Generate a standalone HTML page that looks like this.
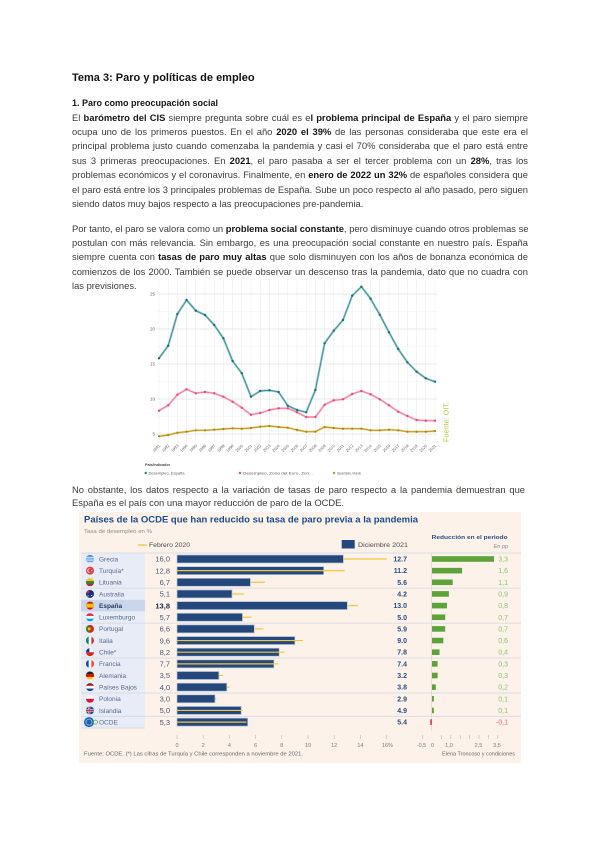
<!DOCTYPE html>
<html><head><meta charset="utf-8">
<style>
html,body{margin:0;padding:0;background:#fff;}
body{width:600px;height:848px;position:relative;overflow:hidden;font-family:"Liberation Sans",Arial,sans-serif;color:#3a3a3a;}
.t{position:absolute;left:72px;white-space:nowrap;}
.ln{position:absolute;left:72px;width:456px;font-size:9.4px;line-height:12.8px;height:12.8px;white-space:nowrap;text-align:justify;text-align-last:justify;}
.ln.l{text-align:left;text-align-last:left;}
b{color:#161616;font-weight:bold;}
</style></head><body>
<div class="t" style="top:71px;font-size:11px;line-height:14px;font-weight:bold;color:#141414;">Tema 3: Paro y políticas de empleo</div>
<div class="t" style="top:96.6px;font-size:9px;line-height:12.8px;font-weight:bold;color:#141414;">1. Paro como preocupación social</div>

<div class="ln" style="top:111.6px">El <b>barómetro del CIS</b> siempre pregunta sobre cuál es e<b>l problema principal de España</b> y el paro siempre</div>
<div class="ln" style="top:126px">ocupa uno de los primeros puestos. En el año <b>2020 el 39%</b> de las personas consideraba que este era el</div>
<div class="ln" style="top:140.4px">principal problema justo cuando comenzaba la pandemia y casi el 70% consideraba que el paro está entre</div>
<div class="ln" style="top:154.8px">sus 3 primeras preocupaciones. En <b>2021</b>, el paro pasaba a ser el tercer problema con un <b>28%</b>, tras los</div>
<div class="ln" style="top:169.2px">problemas económicos y el coronavirus. Finalmente, en <b>enero de 2022 un 32%</b> de españoles considera que</div>
<div class="ln" style="top:183.6px">el paro está entre los 3 principales problemas de España. Sube un poco respecto al año pasado, pero siguen</div>
<div class="ln l" style="top:198px">siendo datos muy bajos respecto a las preocupaciones pre-pandemia.</div>

<div class="ln" style="top:222.6px">Por tanto, el paro se valora como un <b>problema social constante</b>, pero disminuye cuando otros problemas se</div>
<div class="ln" style="top:237px">postulan con más relevancia. Sin embargo, es una preocupación social constante en nuestro país. España</div>
<div class="ln" style="top:251.4px">siempre cuenta con <b>tasas de paro muy altas</b> que solo disminuyen con los años de bonanza económica de</div>
<div class="ln" style="top:265.8px">comienzos de los 2000. También se puede observar un descenso tras la pandemia, dato que no cuadra con</div>
<div class="ln l" style="top:280.2px">las previsiones.</div>

<div class="ln" style="top:483.6px;width:453px">No obstante, los datos respecto a la variación de tasas de paro respecto a la pandemia demuestran que</div>
<div class="ln l" style="top:496.8px">España es el país con una mayor reducción de paro de la OCDE.</div>

<svg width="600" height="848" style="position:absolute;left:0;top:0" font-family="Liberation Sans, Arial, sans-serif">
<defs><clipPath id="fc" clipPathUnits="objectBoundingBox"><circle cx=".5" cy=".5" r=".5"/></clipPath></defs>

<!-- ============ LINE CHART ============ -->
<g>
<g stroke="#f3f3f3" stroke-width="0.5">
<line x1="157" x2="437" y1="416.5" y2="416.5"/><line x1="157" x2="437" y1="381.5" y2="381.5"/>
<line x1="157" x2="437" y1="346.5" y2="346.5"/><line x1="157" x2="437" y1="311.5" y2="311.5"/>
</g>
<g stroke="#e9e9e9" stroke-width="0.5">
<line x1="159" x2="159" y1="279" y2="443"/><line x1="168.2" x2="168.2" y1="279" y2="443"/><line x1="177.4" x2="177.4" y1="279" y2="443"/><line x1="186.6" x2="186.6" y1="279" y2="443"/><line x1="195.8" x2="195.8" y1="279" y2="443"/><line x1="205" x2="205" y1="279" y2="443"/><line x1="214.2" x2="214.2" y1="279" y2="443"/><line x1="223.4" x2="223.4" y1="279" y2="443"/><line x1="232.6" x2="232.6" y1="279" y2="443"/><line x1="241.8" x2="241.8" y1="279" y2="443"/><line x1="251" x2="251" y1="279" y2="443"/><line x1="260.2" x2="260.2" y1="279" y2="443"/><line x1="269.4" x2="269.4" y1="279" y2="443"/><line x1="278.6" x2="278.6" y1="279" y2="443"/><line x1="287.8" x2="287.8" y1="279" y2="443"/><line x1="297" x2="297" y1="279" y2="443"/><line x1="306.2" x2="306.2" y1="279" y2="443"/><line x1="315.4" x2="315.4" y1="279" y2="443"/><line x1="324.6" x2="324.6" y1="279" y2="443"/><line x1="333.8" x2="333.8" y1="279" y2="443"/><line x1="343" x2="343" y1="279" y2="443"/><line x1="352.2" x2="352.2" y1="279" y2="443"/><line x1="361.4" x2="361.4" y1="279" y2="443"/><line x1="370.6" x2="370.6" y1="279" y2="443"/><line x1="379.8" x2="379.8" y1="279" y2="443"/><line x1="389" x2="389" y1="279" y2="443"/><line x1="398.2" x2="398.2" y1="279" y2="443"/><line x1="407.4" x2="407.4" y1="279" y2="443"/><line x1="416.6" x2="416.6" y1="279" y2="443"/><line x1="425.8" x2="425.8" y1="279" y2="443"/><line x1="435" x2="435" y1="279" y2="443"/>
</g>
<g stroke="#e0e0e0" stroke-width="0.7">
<line x1="157" x2="437" y1="294" y2="294"/><line x1="157" x2="437" y1="329" y2="329"/><line x1="157" x2="437" y1="364" y2="364"/><line x1="157" x2="437" y1="399" y2="399"/><line x1="157" x2="437" y1="434" y2="434"/>
</g>
<g font-size="4.5" fill="#666" text-anchor="end">
<text x="155" y="295.6">25</text><text x="155" y="330.6">20</text><text x="155" y="365.6">15</text><text x="155" y="400.6">10</text><text x="155" y="435.6">5</text>
</g>
<!-- Spain -->
<polyline fill="none" stroke="#a9d3d8" stroke-width="2.4" stroke-linejoin="round" points="159,358.3 168.2,345.7 177.4,314 186.6,300 195.8,310.7 205,315 214.2,325 223.4,338.3 232.6,361 241.8,373.3 251,396.7 260.2,391 269.4,390.3 278.6,392 287.8,405.7 297,410 306.2,412.3 315.4,390 324.6,343.3 333.8,330.7 343,320 352.2,295.7 361.4,286.7 370.6,298.7 379.8,314.7 389,332.3 398.2,349 407.4,362.3 416.6,371.7 425.8,378.3 435,381.7"/>
<polyline fill="none" stroke="#3f8f98" stroke-width="1" stroke-linejoin="round" points="159,358.3 168.2,345.7 177.4,314 186.6,300 195.8,310.7 205,315 214.2,325 223.4,338.3 232.6,361 241.8,373.3 251,396.7 260.2,391 269.4,390.3 278.6,392 287.8,405.7 297,410 306.2,412.3 315.4,390 324.6,343.3 333.8,330.7 343,320 352.2,295.7 361.4,286.7 370.6,298.7 379.8,314.7 389,332.3 398.2,349 407.4,362.3 416.6,371.7 425.8,378.3 435,381.7"/>
<g fill="#226b75">
<circle cx="159" cy="358.3" r="1.2"/><circle cx="168.2" cy="345.7" r="1.2"/><circle cx="177.4" cy="314" r="1.2"/><circle cx="186.6" cy="300" r="1.2"/><circle cx="195.8" cy="310.7" r="1.2"/><circle cx="205" cy="315" r="1.2"/><circle cx="214.2" cy="325" r="1.2"/><circle cx="223.4" cy="338.3" r="1.2"/><circle cx="232.6" cy="361" r="1.2"/><circle cx="241.8" cy="373.3" r="1.2"/><circle cx="251" cy="396.7" r="1.2"/><circle cx="260.2" cy="391" r="1.2"/><circle cx="269.4" cy="390.3" r="1.2"/><circle cx="278.6" cy="392" r="1.2"/><circle cx="287.8" cy="405.7" r="1.2"/><circle cx="297" cy="410" r="1.2"/><circle cx="306.2" cy="412.3" r="1.2"/><circle cx="315.4" cy="390" r="1.2"/><circle cx="324.6" cy="343.3" r="1.2"/><circle cx="333.8" cy="330.7" r="1.2"/><circle cx="343" cy="320" r="1.2"/><circle cx="352.2" cy="295.7" r="1.2"/><circle cx="361.4" cy="286.7" r="1.2"/><circle cx="370.6" cy="298.7" r="1.2"/><circle cx="379.8" cy="314.7" r="1.2"/><circle cx="389" cy="332.3" r="1.2"/><circle cx="398.2" cy="349" r="1.2"/><circle cx="407.4" cy="362.3" r="1.2"/><circle cx="416.6" cy="371.7" r="1.2"/><circle cx="425.8" cy="378.3" r="1.2"/><circle cx="435" cy="381.7" r="1.2"/>
</g>
<!-- Euro -->
<polyline fill="none" stroke="#f7bfd0" stroke-width="2.2" stroke-linejoin="round" points="159,410.7 168.2,405.3 177.4,394.7 186.6,389.3 195.8,393.3 205,392 214.2,393.3 223.4,396.7 232.6,401.7 241.8,407.7 251,414.7 260.2,413 269.4,410 278.6,408.3 287.8,408.3 297,412.3 306.2,417 315.4,417 324.6,404.7 333.8,400.3 343,399.3 352.2,394 361.4,391 370.6,394.3 379.8,399.3 389,405.3 398.2,411.7 407.4,416 416.6,420 425.8,420.7 435,420.7"/>
<polyline fill="none" stroke="#f07a9c" stroke-width="0.9" stroke-linejoin="round" points="159,410.7 168.2,405.3 177.4,394.7 186.6,389.3 195.8,393.3 205,392 214.2,393.3 223.4,396.7 232.6,401.7 241.8,407.7 251,414.7 260.2,413 269.4,410 278.6,408.3 287.8,408.3 297,412.3 306.2,417 315.4,417 324.6,404.7 333.8,400.3 343,399.3 352.2,394 361.4,391 370.6,394.3 379.8,399.3 389,405.3 398.2,411.7 407.4,416 416.6,420 425.8,420.7 435,420.7"/>
<g fill="#e84a7c">
<circle cx="159" cy="410.7" r="1.2"/><circle cx="168.2" cy="405.3" r="1.2"/><circle cx="177.4" cy="394.7" r="1.2"/><circle cx="186.6" cy="389.3" r="1.2"/><circle cx="195.8" cy="393.3" r="1.2"/><circle cx="205" cy="392" r="1.2"/><circle cx="214.2" cy="393.3" r="1.2"/><circle cx="223.4" cy="396.7" r="1.2"/><circle cx="232.6" cy="401.7" r="1.2"/><circle cx="241.8" cy="407.7" r="1.2"/><circle cx="251" cy="414.7" r="1.2"/><circle cx="260.2" cy="413" r="1.2"/><circle cx="269.4" cy="410" r="1.2"/><circle cx="278.6" cy="408.3" r="1.2"/><circle cx="287.8" cy="408.3" r="1.2"/><circle cx="297" cy="412.3" r="1.2"/><circle cx="306.2" cy="417" r="1.2"/><circle cx="315.4" cy="417" r="1.2"/><circle cx="324.6" cy="404.7" r="1.2"/><circle cx="333.8" cy="400.3" r="1.2"/><circle cx="343" cy="399.3" r="1.2"/><circle cx="352.2" cy="394" r="1.2"/><circle cx="361.4" cy="391" r="1.2"/><circle cx="370.6" cy="394.3" r="1.2"/><circle cx="379.8" cy="399.3" r="1.2"/><circle cx="389" cy="405.3" r="1.2"/><circle cx="398.2" cy="411.7" r="1.2"/><circle cx="407.4" cy="416" r="1.2"/><circle cx="416.6" cy="420" r="1.2"/><circle cx="425.8" cy="420.7" r="1.2"/><circle cx="435" cy="420.7" r="1.2"/>
</g>
<!-- World -->
<polyline fill="none" stroke="#e6d38a" stroke-width="2.2" stroke-linejoin="round" points="159,436.3 168.2,435 177.4,432.7 186.6,431.7 195.8,430.3 205,430.3 214.2,429.7 223.4,429 232.6,428.3 241.8,428.7 251,428 260.2,426.7 269.4,426 278.6,427 287.8,427.7 297,430 306.2,431.7 315.4,431.7 324.6,427 333.8,428 343,428.7 352.2,428.7 361.4,428.7 370.6,430.3 379.8,430.3 389,429.7 398.2,430.3 407.4,431.7 416.6,431.7 425.8,431.7 435,431"/>
<polyline fill="none" stroke="#b8961c" stroke-width="0.9" stroke-linejoin="round" points="159,436.3 168.2,435 177.4,432.7 186.6,431.7 195.8,430.3 205,430.3 214.2,429.7 223.4,429 232.6,428.3 241.8,428.7 251,428 260.2,426.7 269.4,426 278.6,427 287.8,427.7 297,430 306.2,431.7 315.4,431.7 324.6,427 333.8,428 343,428.7 352.2,428.7 361.4,428.7 370.6,430.3 379.8,430.3 389,429.7 398.2,430.3 407.4,431.7 416.6,431.7 425.8,431.7 435,431"/>
<g fill="#a8870f">
<circle cx="159" cy="436.3" r="1.1"/><circle cx="168.2" cy="435" r="1.1"/><circle cx="177.4" cy="432.7" r="1.1"/><circle cx="186.6" cy="431.7" r="1.1"/><circle cx="195.8" cy="430.3" r="1.1"/><circle cx="205" cy="430.3" r="1.1"/><circle cx="214.2" cy="429.7" r="1.1"/><circle cx="223.4" cy="429" r="1.1"/><circle cx="232.6" cy="428.3" r="1.1"/><circle cx="241.8" cy="428.7" r="1.1"/><circle cx="251" cy="428" r="1.1"/><circle cx="260.2" cy="426.7" r="1.1"/><circle cx="269.4" cy="426" r="1.1"/><circle cx="278.6" cy="427" r="1.1"/><circle cx="287.8" cy="427.7" r="1.1"/><circle cx="297" cy="430" r="1.1"/><circle cx="306.2" cy="431.7" r="1.1"/><circle cx="315.4" cy="431.7" r="1.1"/><circle cx="324.6" cy="427" r="1.1"/><circle cx="333.8" cy="428" r="1.1"/><circle cx="343" cy="428.7" r="1.1"/><circle cx="352.2" cy="428.7" r="1.1"/><circle cx="361.4" cy="428.7" r="1.1"/><circle cx="370.6" cy="430.3" r="1.1"/><circle cx="379.8" cy="430.3" r="1.1"/><circle cx="389" cy="429.7" r="1.1"/><circle cx="398.2" cy="430.3" r="1.1"/><circle cx="407.4" cy="431.7" r="1.1"/><circle cx="416.6" cy="431.7" r="1.1"/><circle cx="425.8" cy="431.7" r="1.1"/><circle cx="435" cy="431" r="1.1"/>
</g>
<!-- x labels -->
<g font-size="4" fill="#666" text-anchor="end">
<text transform="translate(160.5,446) rotate(-45)">1991</text><text transform="translate(169.7,446) rotate(-45)">1992</text><text transform="translate(178.9,446) rotate(-45)">1993</text><text transform="translate(188.1,446) rotate(-45)">1994</text><text transform="translate(197.3,446) rotate(-45)">1995</text><text transform="translate(206.5,446) rotate(-45)">1996</text><text transform="translate(215.7,446) rotate(-45)">1997</text><text transform="translate(224.9,446) rotate(-45)">1998</text><text transform="translate(234.1,446) rotate(-45)">1999</text><text transform="translate(243.3,446) rotate(-45)">2000</text><text transform="translate(252.5,446) rotate(-45)">2001</text><text transform="translate(261.7,446) rotate(-45)">2002</text><text transform="translate(270.9,446) rotate(-45)">2003</text><text transform="translate(280.1,446) rotate(-45)">2004</text><text transform="translate(289.3,446) rotate(-45)">2005</text><text transform="translate(298.5,446) rotate(-45)">2006</text><text transform="translate(307.7,446) rotate(-45)">2007</text><text transform="translate(316.9,446) rotate(-45)">2008</text><text transform="translate(326.1,446) rotate(-45)">2009</text><text transform="translate(335.3,446) rotate(-45)">2010</text><text transform="translate(344.5,446) rotate(-45)">2011</text><text transform="translate(353.7,446) rotate(-45)">2012</text><text transform="translate(362.9,446) rotate(-45)">2013</text><text transform="translate(372.1,446) rotate(-45)">2014</text><text transform="translate(381.3,446) rotate(-45)">2015</text><text transform="translate(390.5,446) rotate(-45)">2016</text><text transform="translate(399.7,446) rotate(-45)">2017</text><text transform="translate(408.9,446) rotate(-45)">2018</text><text transform="translate(418.1,446) rotate(-45)">2019</text><text transform="translate(427.3,446) rotate(-45)">2020</text><text transform="translate(436.5,446) rotate(-45)">2021</text>
</g>
<!-- legend -->
<text x="145" y="466" font-size="4" font-weight="bold" fill="#444" textLength="25" lengthAdjust="spacingAndGlyphs">País/Indicador</text>
<circle cx="145.7" cy="473" r="1.2" fill="#2a7a85"/>
<text x="148.5" y="474.3" font-size="3.6" fill="#555" textLength="36" lengthAdjust="spacingAndGlyphs">Desempleo, España</text>
<circle cx="240" cy="473" r="1.2" fill="#e84a7c"/>
<text x="243" y="474.3" font-size="3.6" fill="#555" textLength="70" lengthAdjust="spacingAndGlyphs">Desempleo, Zona del Euro, Zon...</text>
<circle cx="334" cy="473" r="1.2" fill="#b8961c"/>
<text x="337" y="474.3" font-size="3.6" fill="#555" textLength="24" lengthAdjust="spacingAndGlyphs">Desempleo, Mundo</text>
<text transform="translate(448.5,442) rotate(-90)" font-size="7" fill="#b9c43c" textLength="40" lengthAdjust="spacingAndGlyphs">Fuente: OIT.</text>
<line x1="456" y1="488" x2="459" y2="485" stroke="#c8d9a0" stroke-width="0.8"/>
</g>

<!-- ============ OCDE CHART ============ -->
<g>
<rect x="79" y="512" width="442" height="251" fill="#fcf2ea"/>
<text x="84" y="522.5" font-size="9" font-weight="bold" fill="#1c4b8b" textLength="334" lengthAdjust="spacingAndGlyphs">Países de la OCDE que han reducido su tasa de paro previa a la pandemia</text>
<text x="84" y="533.2" font-size="5.5" fill="#8a8a8a" textLength="68" lengthAdjust="spacingAndGlyphs">Tasa de desempleo en %</text>
<line x1="138" y1="545" x2="147" y2="545" stroke="#f2c94c" stroke-width="1.5"/>
<text x="149" y="547.2" font-size="6" fill="#4a4a4a" textLength="41" lengthAdjust="spacingAndGlyphs">Febrero 2020</text>
<rect x="341.7" y="540" width="13" height="8.5" fill="#24477c"/>
<text x="358" y="547.2" font-size="6" fill="#4a4a4a" textLength="50" lengthAdjust="spacingAndGlyphs">Diciembre 2021</text>
<text x="431.7" y="539" font-size="5.8" font-weight="bold" fill="#2a4d80" textLength="76" lengthAdjust="spacingAndGlyphs">Reducción en el periodo</text>
<text x="508" y="548" font-size="5.5" fill="#888" text-anchor="end">En pp</text>

<rect x="81" y="553" width="64" height="175" fill="#e7ecf6"/>
<rect x="81" y="599.8" width="64" height="11.6" fill="#c9d6ec"/>
<g stroke="#d3d7e2" stroke-width="0.8">
<line x1="81" x2="521" y1="553" y2="553"/>
<line x1="81" x2="521" y1="588.1" y2="588.1"/>
<line x1="81" x2="521" y1="623.1" y2="623.1"/>
<line x1="81" x2="521" y1="658" y2="658"/>
<line x1="81" x2="521" y1="693" y2="693"/>
<line x1="81" x2="521" y1="716.3" y2="716.3"/>
<line x1="81" x2="145" y1="728" y2="728"/>
</g>
<line x1="431.5" y1="553" x2="431.5" y2="731" stroke="#d6d6d6" stroke-width="0.7"/>

<!-- flags -->
<g transform="translate(86,555)" clip-path="url(#fc)"><rect width="8" height="8" fill="#3a7fcf"/><rect y="1.8" width="8" height="0.9" fill="#fff"/><rect y="3.6" width="8" height="0.9" fill="#fff"/><rect y="5.4" width="8" height="0.9" fill="#fff"/><rect y="7.2" width="8" height="0.9" fill="#fff"/></g>
<g transform="translate(86,566.65)" clip-path="url(#fc)"><rect width="8" height="8" fill="#e03a3e"/><circle cx="3.5" cy="4" r="2.2" fill="#fff"/><circle cx="4.1" cy="4" r="1.8" fill="#e03a3e"/><circle cx="5.8" cy="4" r="0.6" fill="#fff"/></g>
<g transform="translate(86,578.3)" clip-path="url(#fc)"><rect width="8" height="8" fill="#c1272d"/><rect width="8" height="2.7" fill="#f7c51e"/><rect y="2.7" width="8" height="2.7" fill="#2e8b3a"/></g>
<g transform="translate(86,589.95)" clip-path="url(#fc)"><rect width="8" height="8" fill="#1d2f7a"/><rect x="0" y="1.6" width="4" height="0.8" fill="#e33"/><rect x="1.6" y="0" width="0.8" height="4" fill="#e33"/><circle cx="5.6" cy="5.5" r="0.6" fill="#fff"/><circle cx="2" cy="6" r="0.6" fill="#fff"/></g>
<g transform="translate(86,601.6)" clip-path="url(#fc)"><rect width="8" height="8" fill="#c8102e"/><rect y="2" width="8" height="4" fill="#ffc400"/></g>
<g transform="translate(86,613.25)" clip-path="url(#fc)"><rect width="8" height="8" fill="#00a1de"/><rect width="8" height="2.7" fill="#ed2939"/><rect y="2.7" width="8" height="2.7" fill="#fff"/></g>
<g transform="translate(86,624.9)" clip-path="url(#fc)"><rect width="8" height="8" fill="#da291c"/><rect width="3.2" height="8" fill="#2a8a3a"/><circle cx="3.2" cy="4" r="1.4" fill="#f5d000"/></g>
<g transform="translate(86,636.55)" clip-path="url(#fc)"><rect width="8" height="8" fill="#ce2b37"/><rect width="2.7" height="8" fill="#009246"/><rect x="2.7" width="2.7" height="8" fill="#fff"/></g>
<g transform="translate(86,648.2)" clip-path="url(#fc)"><rect width="8" height="8" fill="#d52b1e"/><rect width="8" height="4" fill="#fff"/><rect width="3.4" height="4" fill="#0039a6"/></g>
<g transform="translate(86,659.85)" clip-path="url(#fc)"><rect width="8" height="8" fill="#ef4135"/><rect width="2.7" height="8" fill="#0055a4"/><rect x="2.7" width="2.7" height="8" fill="#fff"/></g>
<g transform="translate(86,671.5)" clip-path="url(#fc)"><rect width="8" height="8" fill="#ffce00"/><rect width="8" height="2.7" fill="#222"/><rect y="2.7" width="8" height="2.7" fill="#dd0000"/></g>
<g transform="translate(86,683.15)" clip-path="url(#fc)"><rect width="8" height="8" fill="#21468b"/><rect width="8" height="2.7" fill="#ae1c28"/><rect y="2.7" width="8" height="2.7" fill="#fff"/></g>
<g transform="translate(86,694.8)" clip-path="url(#fc)"><rect width="8" height="8" fill="#dc143c"/><rect width="8" height="4" fill="#fff"/></g>
<g transform="translate(86,706.45)" clip-path="url(#fc)"><rect width="8" height="8" fill="#02529c"/><rect x="2.2" width="2" height="8" fill="#fff"/><rect y="3" width="8" height="2" fill="#fff"/><rect x="2.7" width="1" height="8" fill="#dc1e35"/><rect y="3.5" width="8" height="1" fill="#dc1e35"/></g>
<circle cx="89" cy="722.1" r="5" fill="#1a5fa8"/><circle cx="89" cy="722.1" r="3" fill="none" stroke="#7fb3e0" stroke-width="1"/><circle cx="95.5" cy="722.1" r="2" fill="none" stroke="#6aa84f" stroke-width="0.8"/>

<!-- names -->
<g font-size="6.5" fill="#5a6a8c">
<text x="99" y="561.3">Grecia</text>
<text x="99" y="572.95">Turquía*</text>
<text x="99" y="584.6">Lituania</text>
<text x="99" y="596.25">Australia</text>
<text x="99" y="607.9" font-weight="bold" fill="#2a3a5c">España</text>
<text x="99" y="619.55">Luxemburgo</text>
<text x="99" y="631.2">Portugal</text>
<text x="99" y="642.85">Italia</text>
<text x="99" y="654.5">Chile*</text>
<text x="99" y="666.15">Francia</text>
<text x="99" y="677.8">Alemania</text>
<text x="99" y="689.45">Países Bajos</text>
<text x="99" y="701.1">Polonia</text>
<text x="99" y="712.75">Islandia</text>
<text x="99" y="724.4">OCDE</text>
</g>
<!-- feb values -->
<g font-size="7.5" fill="#4a5570" text-anchor="end">
<text x="170" y="561.7">16,0</text>
<text x="170" y="573.35">12,8</text>
<text x="170" y="585">6,7</text>
<text x="170" y="596.65">5,1</text>
<text x="170" y="608.3" font-weight="bold" fill="#1e2a44">13,8</text>
<text x="170" y="619.95">5,7</text>
<text x="170" y="631.6">6,6</text>
<text x="170" y="643.25">9,6</text>
<text x="170" y="654.9">8,2</text>
<text x="170" y="666.55">7,7</text>
<text x="170" y="678.2">3,5</text>
<text x="170" y="689.85">4,0</text>
<text x="170" y="701.5">3,0</text>
<text x="170" y="713.15">5,0</text>
<text x="170" y="724.8">5,3</text>
</g>
<!-- bars -->
<g fill="#24477c" stroke="#b6c6de" stroke-width="0.7">
<rect x="177" y="555" width="166.4" height="8"/>
<rect x="177" y="566.65" width="146.7" height="8"/>
<rect x="177" y="578.3" width="73.4" height="8"/>
<rect x="177" y="589.95" width="55" height="8"/>
<rect x="177" y="601.6" width="170.3" height="8"/>
<rect x="177" y="613.25" width="65.5" height="8"/>
<rect x="177" y="624.9" width="77.3" height="8"/>
<rect x="177" y="636.55" width="117.9" height="8"/>
<rect x="177" y="648.2" width="102.2" height="8"/>
<rect x="177" y="659.85" width="96.9" height="8"/>
<rect x="177" y="671.5" width="41.9" height="8"/>
<rect x="177" y="683.15" width="49.8" height="8"/>
<rect x="177" y="694.8" width="38" height="8"/>
<rect x="177" y="706.45" width="64.2" height="8"/>
<rect x="177" y="718.1" width="70.7" height="8"/>
</g>
<g stroke="#f3c53c" stroke-width="1.2">
<line x1="343.4" x2="386.6" y1="559" y2="559"/>
<line x1="177" x2="344.7" y1="570.65" y2="570.65"/>
<line x1="250.4" x2="264.8" y1="582.3" y2="582.3"/>
<line x1="232" x2="243.8" y1="593.95" y2="593.95"/>
<line x1="347.3" x2="357.8" y1="605.6" y2="605.6"/>
<line x1="242.5" x2="251.7" y1="617.25" y2="617.25"/>
<line x1="254.3" x2="263.5" y1="628.9" y2="628.9"/>
<line x1="177" x2="302.8" y1="640.55" y2="640.55"/>
<line x1="177" x2="284.4" y1="652.2" y2="652.2"/>
<line x1="177" x2="277.9" y1="663.85" y2="663.85"/>
<line x1="218.9" x2="222.9" y1="675.5" y2="675.5"/>
<line x1="226.8" x2="229.4" y1="687.15" y2="687.15"/>
<line x1="215" x2="216.3" y1="698.8" y2="698.8"/>
<line x1="177" x2="242.5" y1="710.45" y2="710.45"/>
<line x1="177" x2="246.4" y1="722.1" y2="722.1"/>
</g>
<!-- dec values -->
<g font-size="7" font-weight="bold" fill="#2b4d85" text-anchor="end">
<text x="407" y="561.5">12.7</text>
<text x="407" y="573.15">11.2</text>
<text x="407" y="584.8">5.6</text>
<text x="407" y="596.45">4.2</text>
<text x="407" y="608.1">13.0</text>
<text x="407" y="619.75">5.0</text>
<text x="407" y="631.4">5.9</text>
<text x="407" y="643.05">9.0</text>
<text x="407" y="654.7">7.8</text>
<text x="407" y="666.35">7.4</text>
<text x="407" y="678">3.2</text>
<text x="407" y="689.65">3.8</text>
<text x="407" y="701.3">2.9</text>
<text x="407" y="712.95">4.9</text>
<text x="407" y="724.6">5.4</text>
</g>
<!-- green bars -->
<g fill="#5ea33a">
<rect x="432" y="556.2" width="62" height="5.6"/>
<rect x="432" y="567.85" width="30.1" height="5.6"/>
<rect x="432" y="579.5" width="20.7" height="5.6"/>
<rect x="432" y="591.15" width="16.9" height="5.6"/>
<rect x="432" y="602.8" width="15" height="5.6"/>
<rect x="432" y="614.45" width="13.2" height="5.6"/>
<rect x="432" y="626.1" width="13.2" height="5.6"/>
<rect x="432" y="637.75" width="11.3" height="5.6"/>
<rect x="432" y="649.4" width="7.5" height="5.6"/>
<rect x="432" y="661.05" width="5.6" height="5.6"/>
<rect x="432" y="672.7" width="5.6" height="5.6"/>
<rect x="432" y="684.35" width="3.8" height="5.6"/>
<rect x="432" y="696" width="1.9" height="5.6"/>
<rect x="432" y="707.65" width="1.9" height="5.6"/>
</g>
<rect x="430.1" y="719.3" width="1.9" height="5.6" fill="#e8466b"/>
<g font-size="7" fill="#8cc26e" text-anchor="end">
<text x="508" y="561.5">3,3</text>
<text x="508" y="573.15">1,6</text>
<text x="508" y="584.8">1,1</text>
<text x="508" y="596.45">0,9</text>
<text x="508" y="608.1">0,8</text>
<text x="508" y="619.75">0,7</text>
<text x="508" y="631.4">0,7</text>
<text x="508" y="643.05">0,6</text>
<text x="508" y="654.7">0,4</text>
<text x="508" y="666.35">0,3</text>
<text x="508" y="678">0,3</text>
<text x="508" y="689.65">0,2</text>
<text x="508" y="701.3">0,1</text>
<text x="508" y="712.95">0,1</text>
<text x="508" y="724.6" fill="#f06080">-0,1</text>
</g>
<!-- axes -->
<g stroke="#b8b8b8" stroke-width="0.6">
<line x1="177" x2="177" y1="735" y2="739"/><line x1="203.2" x2="203.2" y1="735" y2="739"/><line x1="229.4" x2="229.4" y1="735" y2="739"/><line x1="255.6" x2="255.6" y1="735" y2="739"/><line x1="281.8" x2="281.8" y1="735" y2="739"/><line x1="308" x2="308" y1="735" y2="739"/><line x1="334.2" x2="334.2" y1="735" y2="739"/><line x1="360.4" x2="360.4" y1="735" y2="739"/><line x1="386.6" x2="386.6" y1="735" y2="739"/>
<line x1="422.6" x2="422.6" y1="735" y2="739"/><line x1="441.4" x2="441.4" y1="735" y2="739"/><line x1="450.8" x2="450.8" y1="735" y2="739"/><line x1="460.2" x2="460.2" y1="735" y2="739"/><line x1="469.6" x2="469.6" y1="735" y2="739"/><line x1="479" x2="479" y1="735" y2="739"/><line x1="488.4" x2="488.4" y1="735" y2="739"/><line x1="497.8" x2="497.8" y1="735" y2="739"/>
</g>
<g font-size="5.5" fill="#7a7a7a" text-anchor="middle">
<text x="177" y="747">0</text><text x="203.2" y="747">2</text><text x="229.4" y="747">4</text><text x="255.6" y="747">6</text><text x="281.8" y="747">8</text><text x="308" y="747">10</text><text x="334.2" y="747">12</text><text x="360.4" y="747">14</text><text x="387.5" y="747">16%</text>
<text x="421.5" y="747">-0,5</text><text x="432.5" y="747">0</text><text x="449" y="747">1,0</text><text x="478.5" y="747">2,5</text><text x="497" y="747">3,5</text>
</g>
<text x="84" y="755.5" font-size="5.5" fill="#666" textLength="219" lengthAdjust="spacingAndGlyphs">Fuente: OCDE. (*) Las cifras de Turquía y Chile corresponden a noviembre de 2021.</text>
<text x="442" y="755.5" font-size="5.5" fill="#666" textLength="73" lengthAdjust="spacingAndGlyphs">Elena Troncoso y condiciones</text>
</g>
</svg>
</body></html>
